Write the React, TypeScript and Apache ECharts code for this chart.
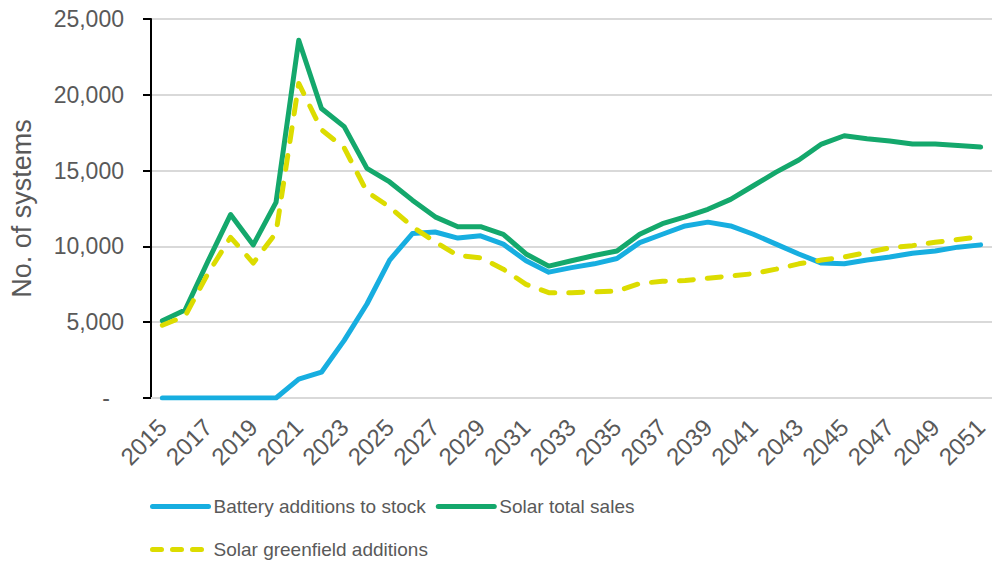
import React, { useEffect, useRef } from "react";
import * as echarts from "echarts";

const years: string[] = [];
for (let y = 2015; y <= 2051; y++) years.push(String(y));

const battery = [
  0, 0, 0, 0, 0, 0, 1250, 1700, 3800, 6200, 9100, 10850, 10950,
  10550, 10700, 10150, 9050, 8300, 8600, 8850, 9200, 10250, 10800, 11350, 11600,
  11350, 10800, 10150, 9500, 8900, 8850, 9100, 9300, 9550, 9700, 9950, 10100,
];

const solarTotal = [
  5100, 5800, 9000, 12100, 10100, 12900, 23600, 19100, 17900, 15150, 14250, 13050, 11950,
  11300, 11300, 10800, 9500, 8700, 9050, 9400, 9700, 10800, 11500, 11950, 12450,
  13100, 14000, 14900, 15700, 16750, 17300, 17100, 16950, 16750, 16750, 16650, 16550,
];

const greenfield = [
  4800, 5400, 8200, 10600, 8900, 10900, 20750, 17700, 16500, 13600, 12600, 11300, 10300,
  9400, 9250, 8500, 7500, 6950, 6950, 7000, 7050, 7550, 7700, 7750, 7900,
  8050, 8200, 8500, 8850, 9100, 9300, 9600, 9900, 10050, 10270, 10450, 10650,
];

const seriesNames = ["Battery additions to stock", "Solar total sales", "Solar greenfield additions"];
const yTicks = [0, 5000, 10000, 15000, 20000, 25000];

const FONT = "Liberation Sans, Arial, sans-serif";
const GREY = "#595959";

const legendCommon = {
  left: 150,
  padding: 0,
  itemWidth: 56,
  itemHeight: 20,
  itemGap: 10,
  itemStyle: { opacity: 0 },
  textStyle: { fontSize: 19, color: GREY, fontFamily: FONT },
};

export default function App() {
  const ref = useRef<HTMLDivElement>(null);
  useEffect(() => {
    if (!ref.current) return;
    const chart = echarts.init(ref.current, undefined, { renderer: "svg" });
    const option: any = {
      animation: false,
      textStyle: { fontFamily: FONT },
      grid: { left: 149, top: 19, width: 849, height: 379, containLabel: false },
      legend: [
        {
          ...legendCommon,
          data: [seriesNames[0], seriesNames[1]],
          top: 497,
          lineStyle: { width: 5, cap: "round" },
        },
        {
          ...legendCommon,
          data: [seriesNames[2]],
          top: 540,
          lineStyle: { width: 5, cap: "round", type: [9, 11] },
        },
      ],
      xAxis: {
        type: "category",
        data: years,
        boundaryGap: true,
        axisLine: { show: true, lineStyle: { color: "#d9d9d9", width: 2 } },
        axisTick: { show: false },
        axisLabel: {
          interval: 1,
          rotate: 45,
          fontSize: 24,
          color: GREY,
          margin: 25,
          fontFamily: FONT,
        },
        splitLine: { show: false },
      },
      yAxis: {
        type: "value",
        min: yTicks[0],
        max: yTicks[yTicks.length - 1],
        interval: 5000,
        name: "No. of systems",
        nameLocation: "middle",
        nameGap: 116,
        nameTextStyle: { fontSize: 27, color: GREY, fontFamily: FONT },
        axisLine: { show: true, lineStyle: { color: "#000", width: 2 } },
        axisTick: { show: true, length: 8, lineStyle: { color: "#000", width: 2 } },
        axisLabel: {
          fontSize: 23,
          color: GREY,
          margin: 27,
          fontFamily: FONT,
          formatter: (v: number) => (v === 0 ? "{d|-}" : v.toLocaleString("en-US")),
          rich: { d: { fontSize: 23, color: GREY, padding: [0, 14, 0, 0], fontFamily: FONT } },
        },
        splitLine: { show: true, lineStyle: { color: "#d9d9d9", width: 2 } },
      },
      series: [
        {
          name: seriesNames[0],
          type: "line",
          data: battery,
          symbol: "none",
          showSymbol: false,
          lineStyle: { color: "#17AEE0", width: 5, cap: "round", join: "round" },
          itemStyle: { color: "#17AEE0" },
        },
        {
          name: seriesNames[1],
          type: "line",
          data: solarTotal,
          symbol: "none",
          showSymbol: false,
          lineStyle: { color: "#14A86C", width: 5, cap: "round", join: "round" },
          itemStyle: { color: "#14A86C" },
        },
        {
          name: seriesNames[2],
          type: "line",
          data: greenfield,
          symbol: "none",
          showSymbol: false,
          lineStyle: { color: "#DCDC00", width: 5, type: [14, 14], cap: "round", join: "round" },
          itemStyle: { color: "#DCDC00" },
        },
      ],
    };
    chart.setOption(option);
    return () => chart.dispose();
  }, []);
  return (
    <div
      ref={ref}
      style={{ position: "fixed", left: 0, top: 0, width: 992, height: 565, background: "#fff" }}
    />
  );
}
